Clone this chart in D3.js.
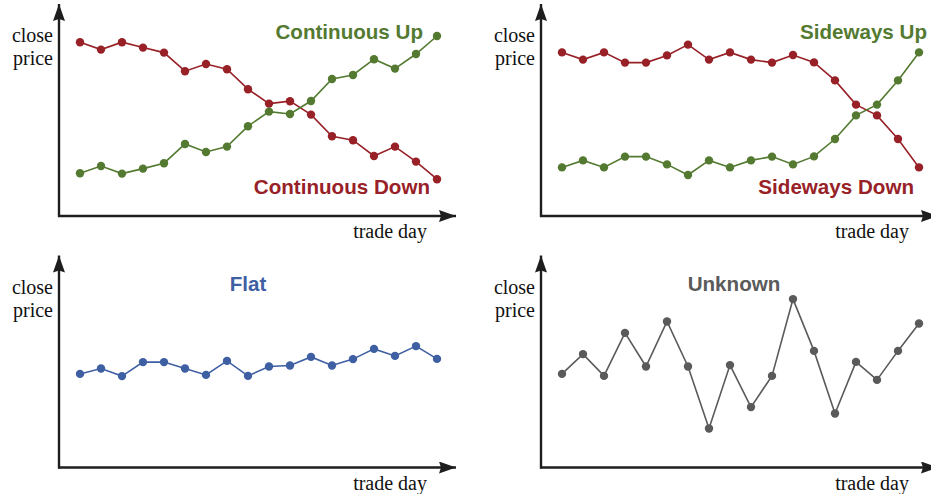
<!DOCTYPE html>
<html>
<head>
<meta charset="utf-8">
<script src="https://cdn.jsdelivr.net/npm/d3@7"></script>
<style>
  body { margin: 0; background: #fff; }
</style>
</head>
<body>
<div id="container"></div>
<script>
/* DATA - close prices, 18 trade days each */
const days = d3.range(18);

const continuousUp = [21.4, 25, 21.2, 23.7, 26.4, 36, 32, 34.7, 44.9, 52.2, 51, 57.5, 68.5, 70.5, 78.4, 73.7, 81, 90];
const continuousDown = [86.9, 83.2, 86.9, 84.2, 81.7, 72.4, 76, 73.4, 63.4, 56.2, 57.4, 50.7, 39.9, 37.9, 30, 34.7, 27.2, 18.4];

const sidewaysUp = [24.3, 27.8, 24.3, 29.7, 29.7, 25.8, 20.5, 27.8, 24.3, 27.8, 29.7, 25.8, 29.8, 38.5, 50.3, 55.7, 67.8, 81.8];
const sidewaysDown = [81.8, 78.2, 81.8, 76.7, 76.7, 80.3, 85.7, 78.2, 81.8, 78.2, 76.7, 80.5, 76.8, 67.8, 55.7, 50.3, 38.5, 24.3];

const flat = [46.8, 49.5, 45.7, 52.7, 52.7, 49.5, 46.3, 53.3, 45.8, 50.5, 51, 55.3, 51, 54.2, 59.3, 55.8, 60.7, 54.3];

const unknown = [46.8, 56.7, 45.8, 67.3, 50.5, 73, 50.5, 19.5, 51.2, 30.2, 45.8, 84.2, 58.3, 27, 52.8, 43.8, 58.3, 72];

const yLabel = ["close", "price"];
const xLabel = "trade day";

/* CONSTANTS AND GLOBALS */
const width = 931,
  height = 494;

const colors = {
  red: "#972127",
  green: "#537a30",
  blue: "#3f5fa3",
  gray: "#5a5a5a",
  axis: "#1e1e1e"
};

// each panel: origin of the axes + series + titles
const panels = [
  {
    ox: 59, oy: 216,
    series: [
      { values: continuousDown, color: colors.red },
      { values: continuousUp, color: colors.green }
    ],
    titles: [
      { text: "Continuous Up", color: colors.green, x: 364, y: -177, anchor: "end" },
      { text: "Continuous Down", color: colors.red, x: 371, y: -22, anchor: "end" }
    ]
  },
  {
    ox: 541, oy: 216,
    series: [
      { values: sidewaysDown, color: colors.red },
      { values: sidewaysUp, color: colors.green }
    ],
    titles: [
      { text: "Sideways Up", color: colors.green, x: 386, y: -177, anchor: "end" },
      { text: "Sideways Down", color: colors.red, x: 373, y: -22, anchor: "end" }
    ]
  },
  {
    ox: 59, oy: 467.5,
    series: [{ values: flat, color: colors.blue }],
    titles: [{ text: "Flat", color: colors.blue, x: 189, y: -177, anchor: "middle" }]
  },
  {
    ox: 541, oy: 467.5,
    series: [{ values: unknown, color: colors.gray }],
    titles: [{ text: "Unknown", color: colors.gray, x: 193, y: -177, anchor: "middle" }]
  }
];

// svg
const svg = d3
  .select("#container")
  .append("svg")
  .attr("width", width)
  .attr("height", height);

// arrow heads
const defs = svg.append("defs");
defs.append("marker")
  .attr("id", "arrow")
  .attr("viewBox", "0 0 17 12")
  .attr("refX", 17)
  .attr("refY", 6)
  .attr("markerWidth", 17)
  .attr("markerHeight", 12)
  .attr("markerUnits", "userSpaceOnUse")
  .attr("orient", "auto")
  .append("path")
  .attr("d", "M0,0 L17,6 L0,12 L2,6 Z")
  .attr("fill", colors.axis);

panels.forEach((p) => {
  const g = svg.append("g").attr("transform", `translate(${p.ox},${p.oy})`);

  // x scale - trade day index
  const xScale = d3.scaleLinear()
    .domain([0, days.length - 1])
    .range([21, 378]);

  // y scale - close price
  const yScale = d3.scaleLinear()
    .domain([0, 100])
    .range([0, -200]);

  // axes (no ticks, just arrows)
  g.append("line")
    .attr("x1", 0).attr("y1", 1)
    .attr("x2", 0).attr("y2", -212)
    .attr("stroke", colors.axis)
    .attr("stroke-width", 2.4)
    .attr("marker-end", "url(#arrow)");

  g.append("line")
    .attr("x1", -1).attr("y1", 0)
    .attr("x2", 397).attr("y2", 0)
    .attr("stroke", colors.axis)
    .attr("stroke-width", 2.4)
    .attr("marker-end", "url(#arrow)");

  // axis labels
  g.selectAll(".ylab")
    .data(yLabel)
    .join("text")
    .attr("class", "ylab")
    .attr("x", -6)
    .attr("y", (d, i) => -174 + i * 23)
    .attr("text-anchor", "end")
    .attr("font-family", "'Liberation Serif', 'Times New Roman', serif")
    .attr("font-size", 20)
    .attr("fill", "#111")
    .text(d => d);

  g.append("text")
    .attr("x", 368)
    .attr("y", 22)
    .attr("text-anchor", "end")
    .attr("font-family", "'Liberation Serif', 'Times New Roman', serif")
    .attr("font-size", 20)
    .attr("fill", "#111")
    .text(xLabel);

  // LINE GENERATOR FUNCTION
  const lineGen = d3.line()
    .x((d, i) => xScale(days[i]))
    .y(d => yScale(d));

  p.series.forEach((s) => {
    g.append("path")
      .datum(s.values)
      .attr("fill", "none")
      .attr("stroke", s.color)
      .attr("stroke-width", 1.6)
      .attr("d", lineGen);

    g.append("g")
      .selectAll("circle")
      .data(s.values)
      .join("circle")
      .attr("cx", (d, i) => xScale(days[i]))
      .attr("cy", d => yScale(d))
      .attr("r", 4.2)
      .attr("fill", s.color);
  });

  // titles
  g.selectAll(".title")
    .data(p.titles)
    .join("text")
    .attr("class", "title")
    .attr("x", d => d.x)
    .attr("y", d => d.y)
    .attr("text-anchor", d => d.anchor)
    .attr("font-family", "'Liberation Sans', Arial, sans-serif")
    .attr("font-weight", "bold")
    .attr("font-size", 20.6)
    .attr("fill", d => d.color)
    .text(d => d.text);
});
</script>
</body>
</html>
